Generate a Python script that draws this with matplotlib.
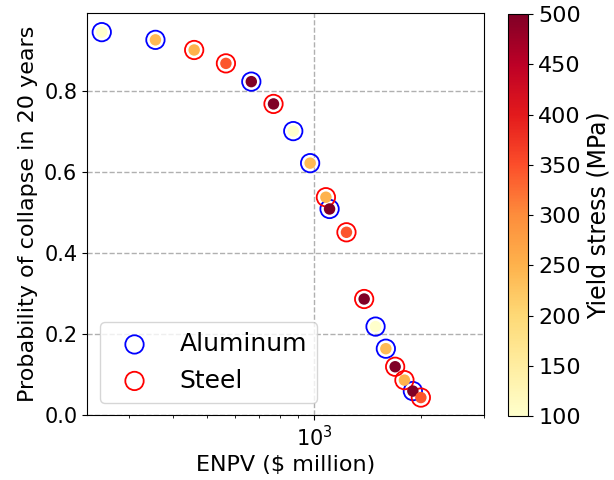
import matplotlib
matplotlib.use("Agg")
import matplotlib.pyplot as plt
import numpy as np

# Aluminum designs
al_enpv = [252, 357, 665, 873, 974, 1105, 1489, 1592, 1897]
al_prob = [0.944, 0.925, 0.822, 0.700, 0.621, 0.508, 0.218, 0.1635, 0.059]
al_yield = [100, 240, 500, 100, 240, 500, 100, 240, 500]

# Steel designs
st_enpv = [459, 564, 768, 1079, 1233, 1383, 1691, 1796, 1998]
st_prob = [0.900, 0.867, 0.767, 0.537, 0.4505, 0.286, 0.119, 0.086, 0.043]
st_yield = [250, 345, 500, 250, 345, 500, 500, 250, 345]

cbar_ticks = [100, 150, 200, 250, 300, 350, 400, 450, 500]

fig = plt.figure(figsize=(6.14, 4.8), dpi=100)
ax = fig.add_axes([0.1417, 0.1354, 0.6466, 0.8365])
cax = fig.add_axes([0.8274, 0.1333, 0.0331, 0.8375])

cmap = plt.get_cmap("YlOrRd")
vmin, vmax = 100, 500

ring_s = 175
dot_s = 68

ax.scatter(al_enpv, al_prob, s=ring_s, facecolors="none", edgecolors="b",
           linewidths=1.3, label="Aluminum", zorder=3)
ax.scatter(al_enpv, al_prob, s=dot_s, c=al_yield, cmap=cmap, vmin=vmin, vmax=vmax,
           linewidths=0, zorder=4)
ax.scatter(st_enpv, st_prob, s=ring_s, facecolors="none", edgecolors="r",
           linewidths=1.3, label="Steel", zorder=3)
sc = ax.scatter(st_enpv, st_prob, s=dot_s, c=st_yield, cmap=cmap, vmin=vmin, vmax=vmax,
                linewidths=0, zorder=4)

ax.set_xscale("log")
ax.set_xlim(229, 3010)
ax.set_ylim(0, 0.99)
ax.set_yticks([0.0, 0.2, 0.4, 0.6, 0.8])
ax.grid(True, which="major", linestyle="--", color="#b0b0b0", linewidth=1.0)
ax.set_axisbelow(True)

ax.tick_params(axis="both", which="major", labelsize=15)
ax.set_xlabel("ENPV ($ million)", fontsize=16)
ax.set_ylabel("Probability of collapse in 20 years", fontsize=16)

ax.legend(loc="lower left", fontsize=18)

cb = fig.colorbar(sc, cax=cax, ticks=cbar_ticks)
cb.ax.tick_params(labelsize=16)
cb.set_label("Yield stress (MPa)", fontsize=17)

fig.savefig("out.png", dpi=100)
